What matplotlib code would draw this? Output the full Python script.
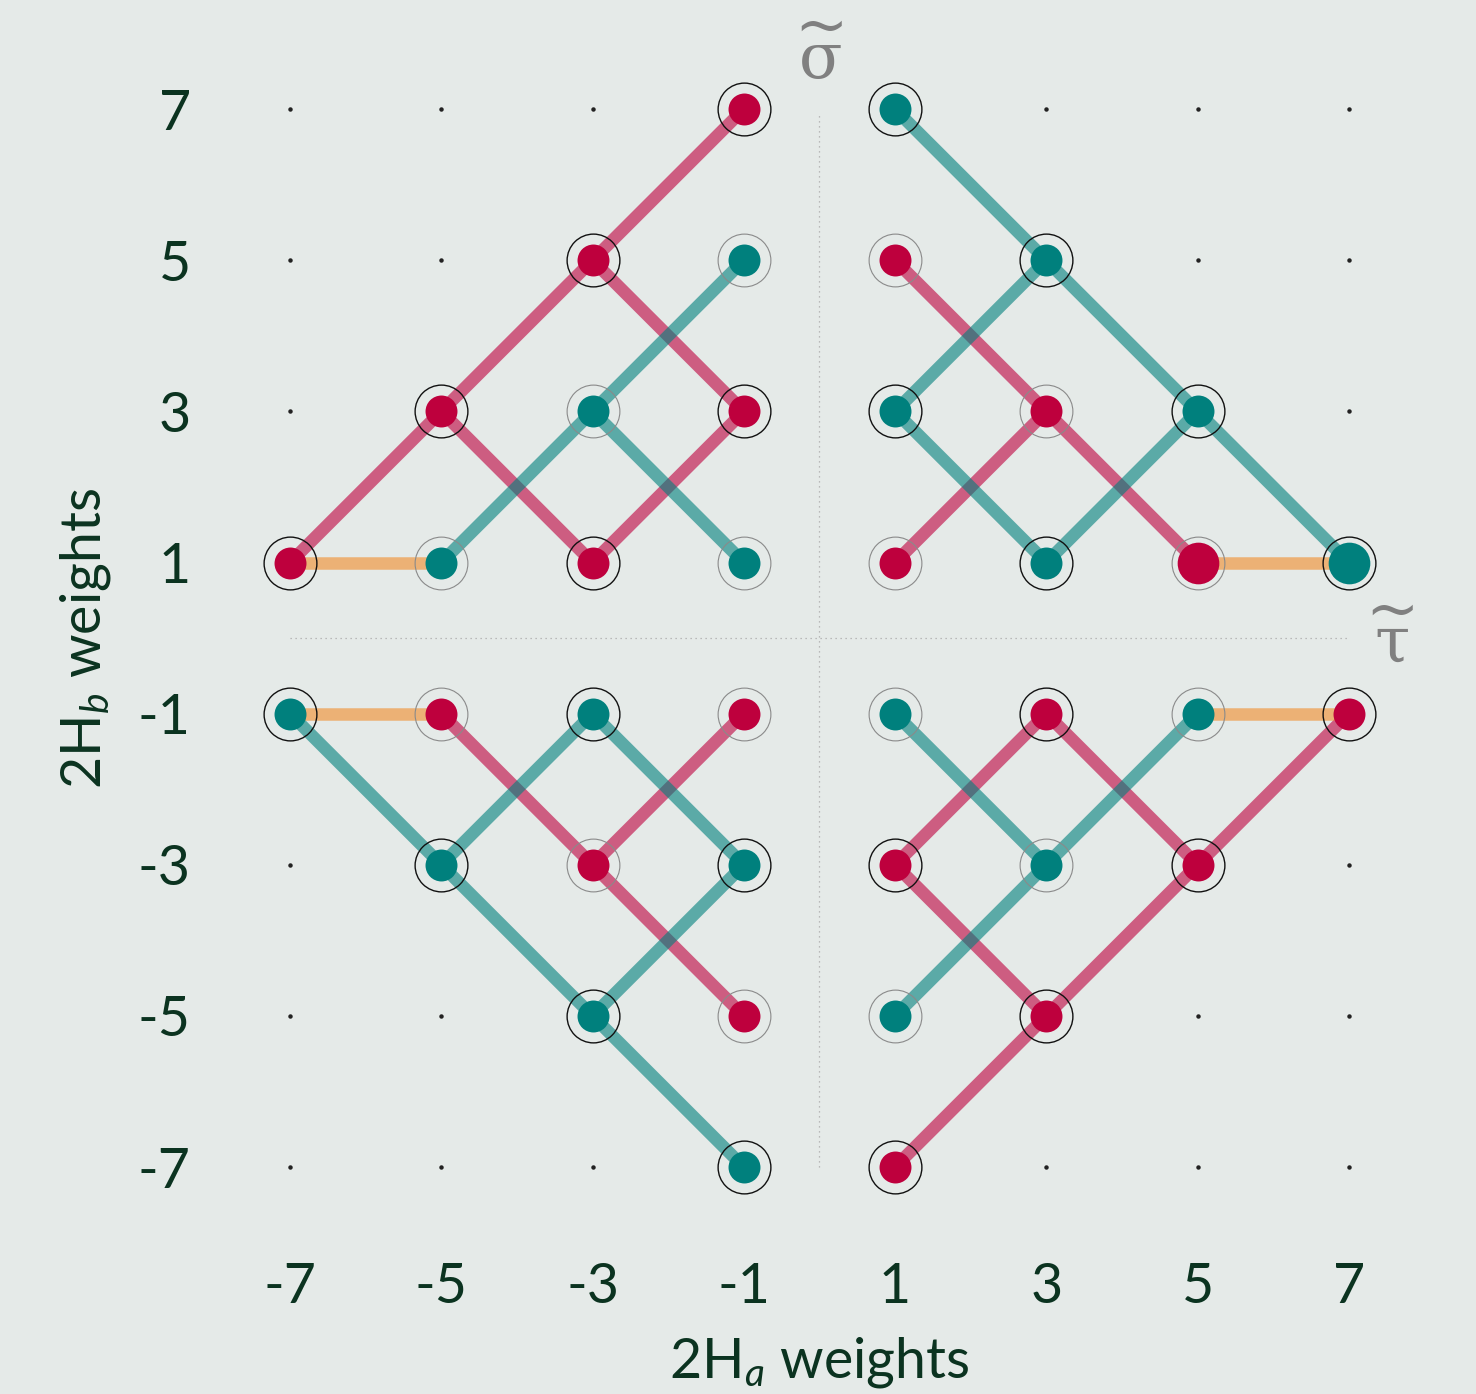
import matplotlib
matplotlib.use("Agg")
import matplotlib.pyplot as plt

# ---- data ----
tick_vals = [-7, -5, -3, -1, 1, 3, 5, 7]
tick_labels = ["-7", "-5", "-3", "-1", "1", "3", "5", "7"]

# weight points: x, y, colour ('r' red / 't' teal), ring ('b' black / 'g' gray), big flag
pt_x = [-1, -3, -1, -5, -3, -1, -7, -5, -3, -1,
        1, 1, 3, 1, 3, 5, 1, 3, 5, 7,
        -7, -5, -3, -1, -5, -3, -1, -3, -1, -1,
        1, 3, 5, 7, 1, 3, 5, 1, 3, 1]
pt_y = [7, 5, 5, 3, 3, 3, 1, 1, 1, 1,
        7, 5, 5, 3, 3, 3, 1, 1, 1, 1,
        -1, -1, -1, -1, -3, -3, -3, -5, -5, -7,
        -1, -1, -1, -1, -3, -3, -3, -5, -5, -7]
pt_col = ['r', 'r', 't', 'r', 't', 'r', 'r', 't', 'r', 't',
          't', 'r', 't', 't', 'r', 't', 'r', 't', 'r', 't',
          't', 'r', 't', 'r', 't', 'r', 't', 't', 'r', 't',
          't', 'r', 't', 'r', 'r', 't', 'r', 't', 'r', 'r']
pt_ring = ['b', 'b', 'g', 'b', 'g', 'b', 'b', 'g', 'b', 'g',
           'b', 'g', 'b', 'b', 'g', 'b', 'g', 'b', 'g', 'b',
           'b', 'g', 'b', 'g', 'b', 'g', 'b', 'b', 'g', 'b',
           'g', 'b', 'g', 'b', 'b', 'g', 'b', 'g', 'b', 'b']
pt_big = [0] * 18 + [1, 1] + [0] * 20

# empty lattice sites
dot_x = [-7, -5, -3, -7, -5, -7,
         3, 5, 7, 5, 7, 7,
         -7, -7, -5, -7, -5, -3,
         7, 5, 7, 3, 5, 7]
dot_y = [7, 7, 7, 5, 5, 3,
         7, 7, 7, 5, 5, 3,
         -3, -5, -5, -7, -7, -7,
         -3, -5, -5, -7, -7, -7]

# connecting paths (xs, ys)
red_paths = [
    ([-7, -5, -3, -1], [1, 3, 5, 7]),
    ([-5, -3, -1, -3], [3, 1, 3, 5]),
    ([1, 3, 5], [5, 3, 1]),
    ([1, 3], [1, 3]),
    ([-5, -3, -1], [-1, -3, -5]),
    ([-3, -1], [-3, -1]),
    ([1, 3, 5, 7], [-7, -5, -3, -1]),
    ([3, 1, 3, 5], [-5, -3, -1, -3]),
]
teal_paths = [
    ([-5, -3, -1], [1, 3, 5]),
    ([-3, -1], [3, 1]),
    ([1, 3, 5, 7], [7, 5, 3, 1]),
    ([3, 1, 3, 5], [5, 3, 1, 3]),
    ([-7, -5, -3, -1], [-1, -3, -5, -7]),
    ([-5, -3, -1, -3], [-3, -1, -3, -5]),
    ([1, 3, 5], [-1, -3, -1]),
    ([1, 3], [-5, -3]),
]
orange_paths = [
    ([-7, -5], [1, 1]),
    ([5, 7], [1, 1]),
    ([-7, -5], [-1, -1]),
    ([5, 7], [-1, -1]),
]

# ---- style ----
BG = "#E5EAE8"
RED = "#BE003D"
TEAL = "#00807D"
ORANGE = "#F28C28"
TXT = "#0B3320"
cols = {'r': RED, 't': TEAL}

plt.rcParams['mathtext.fontset'] = 'custom'
plt.rcParams['mathtext.rm'] = 'Lato'
plt.rcParams['mathtext.it'] = 'Lato:italic'

W, H = 1476, 1394
fig = plt.figure(figsize=(W / 100, H / 100), dpi=100, facecolor=BG)
ax = fig.add_axes([214.4 / W, (H - 1242.6) / H, 1210 / W, 1209 / H])
ax.set_facecolor(BG)
ax.set_xlim(-8, 8)
ax.set_ylim(-8, 8)
for s in ax.spines.values():
    s.set_visible(False)

# guide dotted axes
ax.plot([0, 0], [-7, 6.92], color="#AAAAAA", lw=0.9, ls=(0, (1, 3)), zorder=1)
ax.plot([-7, 7], [0, 0], color="#AAAAAA", lw=0.9, ls=(0, (1, 3)), zorder=1)

lw = 9
for xs, ys in red_paths:
    ax.plot(xs, ys, color=RED, lw=lw, alpha=0.6, solid_capstyle='butt', zorder=2)
for xs, ys in teal_paths:
    ax.plot(xs, ys, color=TEAL, lw=lw, alpha=0.6, solid_capstyle='butt', zorder=2)
for xs, ys in orange_paths:
    ax.plot(xs, ys, color=ORANGE, lw=lw, alpha=0.6, solid_capstyle='butt', zorder=2)

ax.plot(dot_x, dot_y, ls='none', marker='o', ms=2.2, color='#222222', zorder=2)

for x, y, c, r, b in zip(pt_x, pt_y, pt_col, pt_ring, pt_big):
    rc = '#111111' if r == 'b' else '#8A8A8A'
    rw = 1.0 if r == 'b' else 0.8
    ax.plot([x], [y], ls='none', marker='o', ms=38, mfc='none', mec=rc, mew=rw, zorder=3)
    ax.plot([x], [y], ls='none', marker='o', ms=30 if b else 23, color=cols[c], mew=0, zorder=4)

ax.set_xticks(tick_vals)
ax.set_xticklabels(tick_labels)
ax.set_yticks(tick_vals)
ax.set_yticklabels(tick_labels)
ax.tick_params(axis='x', length=0, labelsize=40, labelcolor=TXT, pad=14)
ax.tick_params(axis='y', length=0, labelsize=40, labelcolor=TXT, pad=17)
for lab in ax.get_xticklabels() + ax.get_yticklabels():
    lab.set_family('Lato')

fig.text(819.5 / W, 1 - 1363 / H, r"2H$_{\mathit{a}}$ weights", ha='center', va='center',
         fontsize=40, color=TXT, family='Lato')
fig.text(86 / W, 1 - 638 / H, r"2H$_{\mathit{b}}$ weights", ha='center', va='center',
         fontsize=40, color=TXT, family='Lato', rotation=90)

# tilde-decorated labels: upright serif greek letter with a wide tilde above (one text each)
fig.text(821 / W, 1 - 44 / H, "~\nσ", ha='center', va='center', multialignment='center',
         fontsize=46, color='#808080', family='DejaVu Serif', linespacing=0.4)
fig.text(1392 / W, 1 - 628 / H, "~\nτ", ha='center', va='center', multialignment='center',
         fontsize=46, color='#808080', family='DejaVu Serif', linespacing=0.4)

fig.savefig("out.png", dpi=100, facecolor=BG)
